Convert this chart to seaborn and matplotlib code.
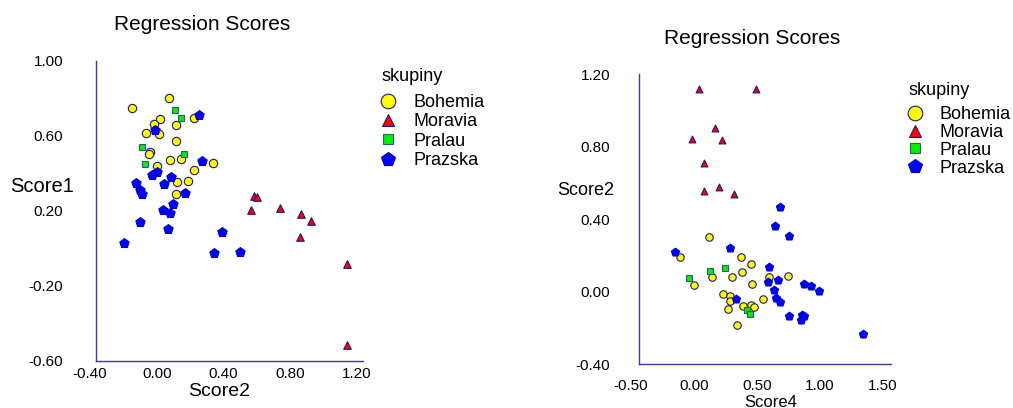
import numpy as np
import pandas as pd
import matplotlib
matplotlib.use("Agg")
import matplotlib.pyplot as plt
import seaborn as sns
from matplotlib.lines import Line2D
from matplotlib.ticker import FixedLocator, FormatStrFormatter
from matplotlib.transforms import ScaledTranslation

# ---------------- data ----------------
groups = ["Bohemia", "Moravia", "Pralau", "Prazska"]

# Left panel: Score2 (x) vs Score1 (y)
left_bohemia_x = [-0.186, 0.035, -0.015, -0.051, -0.101, -0.025, 0.077, 0.189, 0.077, -0.077,
                  -0.081, 0.041, 0.107, -0.037, 0.187, 0.299, 0.083, 0.151, 0.081]
left_bohemia_y = [0.749, 0.804, 0.688, 0.663, 0.615, 0.613, 0.659, 0.697, 0.572, 0.517,
                  0.506, 0.470, 0.479, 0.440, 0.420, 0.456, 0.353, 0.360, 0.292]
left_moravia_x = [0.544, 0.564, 0.526, 0.700, 0.830, 0.889, 0.822, 1.103, 1.103]
left_moravia_y = [0.279, 0.276, 0.206, 0.217, 0.185, 0.146, 0.062, -0.081, -0.516]
left_pralau_x = [0.075, 0.111, -0.125, 0.129, -0.105]
left_pralau_y = [0.736, 0.695, 0.543, 0.506, 0.449]
left_prazska_x = [0.215, -0.045, 0.235, -0.035, -0.063, 0.047, -0.158, 0.009, -0.139, -0.127,
                  0.131, 0.061, -0.001, 0.041, -0.135, 0.029, -0.232, 0.356, 0.305, 0.462]
left_prazska_y = [0.711, 0.634, 0.465, 0.406, 0.394, 0.379, 0.349, 0.342, 0.310, 0.288,
                  0.296, 0.235, 0.203, 0.187, 0.140, 0.103, 0.030, 0.090, -0.022, -0.018]

# Right panel: Score4 (x) vs Score2 (y)
right_bohemia_x = [0.059, -0.174, 0.311, 0.390, 0.321, 0.077, 0.236, 0.528, 0.684, -0.066,
                   0.398, 0.168, 0.223, 0.223, 0.483, 0.205, 0.324, 0.387, 0.414, 0.281]
right_bohemia_y = [0.299, 0.190, 0.188, 0.154, 0.109, 0.078, 0.078, 0.082, 0.084, 0.038,
                   0.043, -0.014, -0.023, -0.051, -0.040, -0.098, -0.078, -0.074, -0.084, -0.185]
right_moravia_x = [-0.023, 0.430, 0.101, -0.081, 0.162, 0.019, 0.014, 0.138, 0.252]
right_moravia_y = [1.115, 1.115, 0.900, 0.841, 0.836, 0.709, 0.554, 0.575, 0.538]
right_pralau_x = [-0.103, 0.064, 0.183, 0.358, 0.377]
right_pralau_y = [0.076, 0.113, 0.130, -0.102, -0.124]
right_prazska_x = [0.621, 0.578, 0.692, 0.221, -0.217, 0.528, 0.520, 0.607, 0.573, 0.811,
                   0.862, 0.925, 0.586, 0.621, 0.266, 0.692, 0.793, 0.811, 0.788, 1.280]
right_prazska_y = [0.466, 0.361, 0.308, 0.238, 0.216, 0.133, 0.051, 0.064, 0.008, 0.041,
                   0.030, 0.003, -0.034, -0.060, -0.043, -0.135, -0.130, -0.135, -0.157, -0.234]

left_xticks = [-0.40, 0.00, 0.40, 0.80, 1.20]
left_yticks = [-0.60, -0.20, 0.20, 0.60, 1.00]
right_xticks = [-0.50, 0.00, 0.50, 1.00, 1.50]
right_yticks = [-0.40, 0.00, 0.40, 0.80, 1.20]

title_text = "Regression Scores"
legend_title = "skupiny"


def make_df(bx, by, mx, my, px, py, zx, zy):
    frames = []
    for g, xs, ys in zip(groups, [bx, mx, px, zx], [by, my, py, zy]):
        frames.append(pd.DataFrame({"x": xs, "y": ys, "skupina": g}))
    return pd.concat(frames, ignore_index=True)


df_left = make_df(left_bohemia_x, left_bohemia_y, left_moravia_x, left_moravia_y,
                  left_pralau_x, left_pralau_y, left_prazska_x, left_prazska_y)
df_right = make_df(right_bohemia_x, right_bohemia_y, right_moravia_x, right_moravia_y,
                   right_pralau_x, right_pralau_y, right_prazska_x, right_prazska_y)

# ---------------- style ----------------
sns.set_style("white")
plt.rcParams["font.family"] = ["Liberation Sans", "DejaVu Sans"]
plt.rcParams["axes.unicode_minus"] = False
plt.rcParams["text.color"] = "black"
plt.rcParams["axes.labelcolor"] = "black"

face = {"Bohemia": "#FFFF00", "Moravia": "#FF0000", "Pralau": "#00EE00", "Prazska": "#0000FF"}
edge = {"Bohemia": "#1A1A80", "Moravia": "#1A1A80", "Pralau": "#2F5F6F", "Prazska": "#0000C0"}
mark = {"Bohemia": "o", "Moravia": "^", "Pralau": "s", "Prazska": "p"}
size_left = {"Bohemia": 36, "Moravia": 30, "Pralau": 19, "Prazska": 50}
size_right = {"Bohemia": 29, "Moravia": 24, "Pralau": 17, "Prazska": 38}
leg_ms = {"Bohemia": 10.5, "Moravia": 8.5, "Pralau": 6.5, "Prazska": 10.0}
axc = "#3A3AA0"

W, H = 1013, 408
fig = plt.figure(figsize=(W / 100, H / 100), dpi=100)


def px_box(x0, x1, ytop, ybot):
    return [x0 / W, 1 - ybot / H, (x1 - x0) / W, (ybot - ytop) / H]


ax1 = fig.add_axes(px_box(96, 363, 61, 361))
ax2 = fig.add_axes(px_box(639, 891, 74, 364))


def draw(ax, df, sizes):
    for g in groups:
        sub = df[df["skupina"] == g]
        sns.scatterplot(data=sub, x="x", y="y", ax=ax, marker=mark[g], s=sizes[g],
                        color=face[g], edgecolor=edge[g], linewidth=0.8,
                        legend=False, zorder=3, clip_on=False)


draw(ax1, df_left, size_left)
draw(ax2, df_right, size_right)


def style(ax, xticks, yticks, ypad, xpad, xoff):
    ax.set_xlim(xticks[0], xticks[-1])
    ax.set_ylim(yticks[0], yticks[-1])
    ax.xaxis.set_major_locator(FixedLocator(xticks))
    ax.yaxis.set_major_locator(FixedLocator(yticks))
    ax.xaxis.set_minor_locator(FixedLocator(np.linspace(xticks[0], xticks[-1], 21)))
    ax.yaxis.set_minor_locator(FixedLocator(np.linspace(yticks[0], yticks[-1], 21)))
    ax.xaxis.set_major_formatter(FormatStrFormatter("%.2f"))
    ax.yaxis.set_major_formatter(FormatStrFormatter("%.2f"))
    for s in ["top", "right"]:
        ax.spines[s].set_visible(False)
    for s in ["left", "bottom"]:
        ax.spines[s].set_color(axc)
        ax.spines[s].set_linewidth(1.0)
    ax.tick_params(which="both", direction="out", length=3.6, width=0.8, color=axc,
                   labelsize=11, labelcolor="black")
    ax.tick_params(axis="y", which="major", pad=ypad)
    ax.tick_params(axis="x", which="major", pad=xpad)
    ax.grid(False)
    off = ScaledTranslation(xoff / 100, 0, fig.dpi_scale_trans)
    for lab in ax.get_xticklabels():
        lab.set_transform(lab.get_transform() + off)


style(ax1, left_xticks, left_yticks, ypad=20, xpad=1, xoff=-6)
style(ax2, right_xticks, right_yticks, ypad=17, xpad=7, xoff=-8)

ax1.set_xlabel("Score2", fontsize=14)
ax1.xaxis.set_label_coords(0.461, -0.103)
ax1.xaxis.label.set_va("center")
ax1.set_ylabel("Score1", fontsize=14.5, rotation=0, ha="center", va="center")
ax1.yaxis.set_label_coords(-0.202, 0.58)

ax2.set_xlabel("Score4", fontsize=12)
ax2.xaxis.set_label_coords(0.524, -0.132)
ax2.xaxis.label.set_va("center")
ax2.set_ylabel("Score2", fontsize=13, rotation=0, ha="center", va="center")
ax2.yaxis.set_label_coords(-0.210, 0.600)

fig.text(202 / W, 1 - 25 / H, title_text, ha="center", va="center", fontsize=15)
fig.text(752 / W, 1 - 39 / H, title_text, ha="center", va="center", fontsize=15)

handles = [Line2D([], [], linestyle="none", marker=mark[g], markersize=leg_ms[g],
                  markerfacecolor=face[g], markeredgecolor=edge[g], markeredgewidth=0.8,
                  label=g) for g in groups]

fig.text(381 / W, 1 - 81 / H, legend_title, ha="left", va="baseline", fontsize=13)
fig.legend(handles=handles, loc="upper left", bbox_to_anchor=(379 / W, 1 - 94 / H),
           frameon=False, fontsize=13, handlelength=1.0, handletextpad=0.9,
           labelspacing=0.13, borderpad=0, borderaxespad=0)

fig.text(908 / W, 1 - 95 / H, legend_title, ha="left", va="baseline", fontsize=13)
fig.legend(handles=handles, loc="upper left", bbox_to_anchor=(906 / W, 1 - 106 / H),
           frameon=False, fontsize=13, handlelength=1.0, handletextpad=0.85,
           labelspacing=0.05, borderpad=0, borderaxespad=0)

fig.savefig("out.png", dpi=100)
